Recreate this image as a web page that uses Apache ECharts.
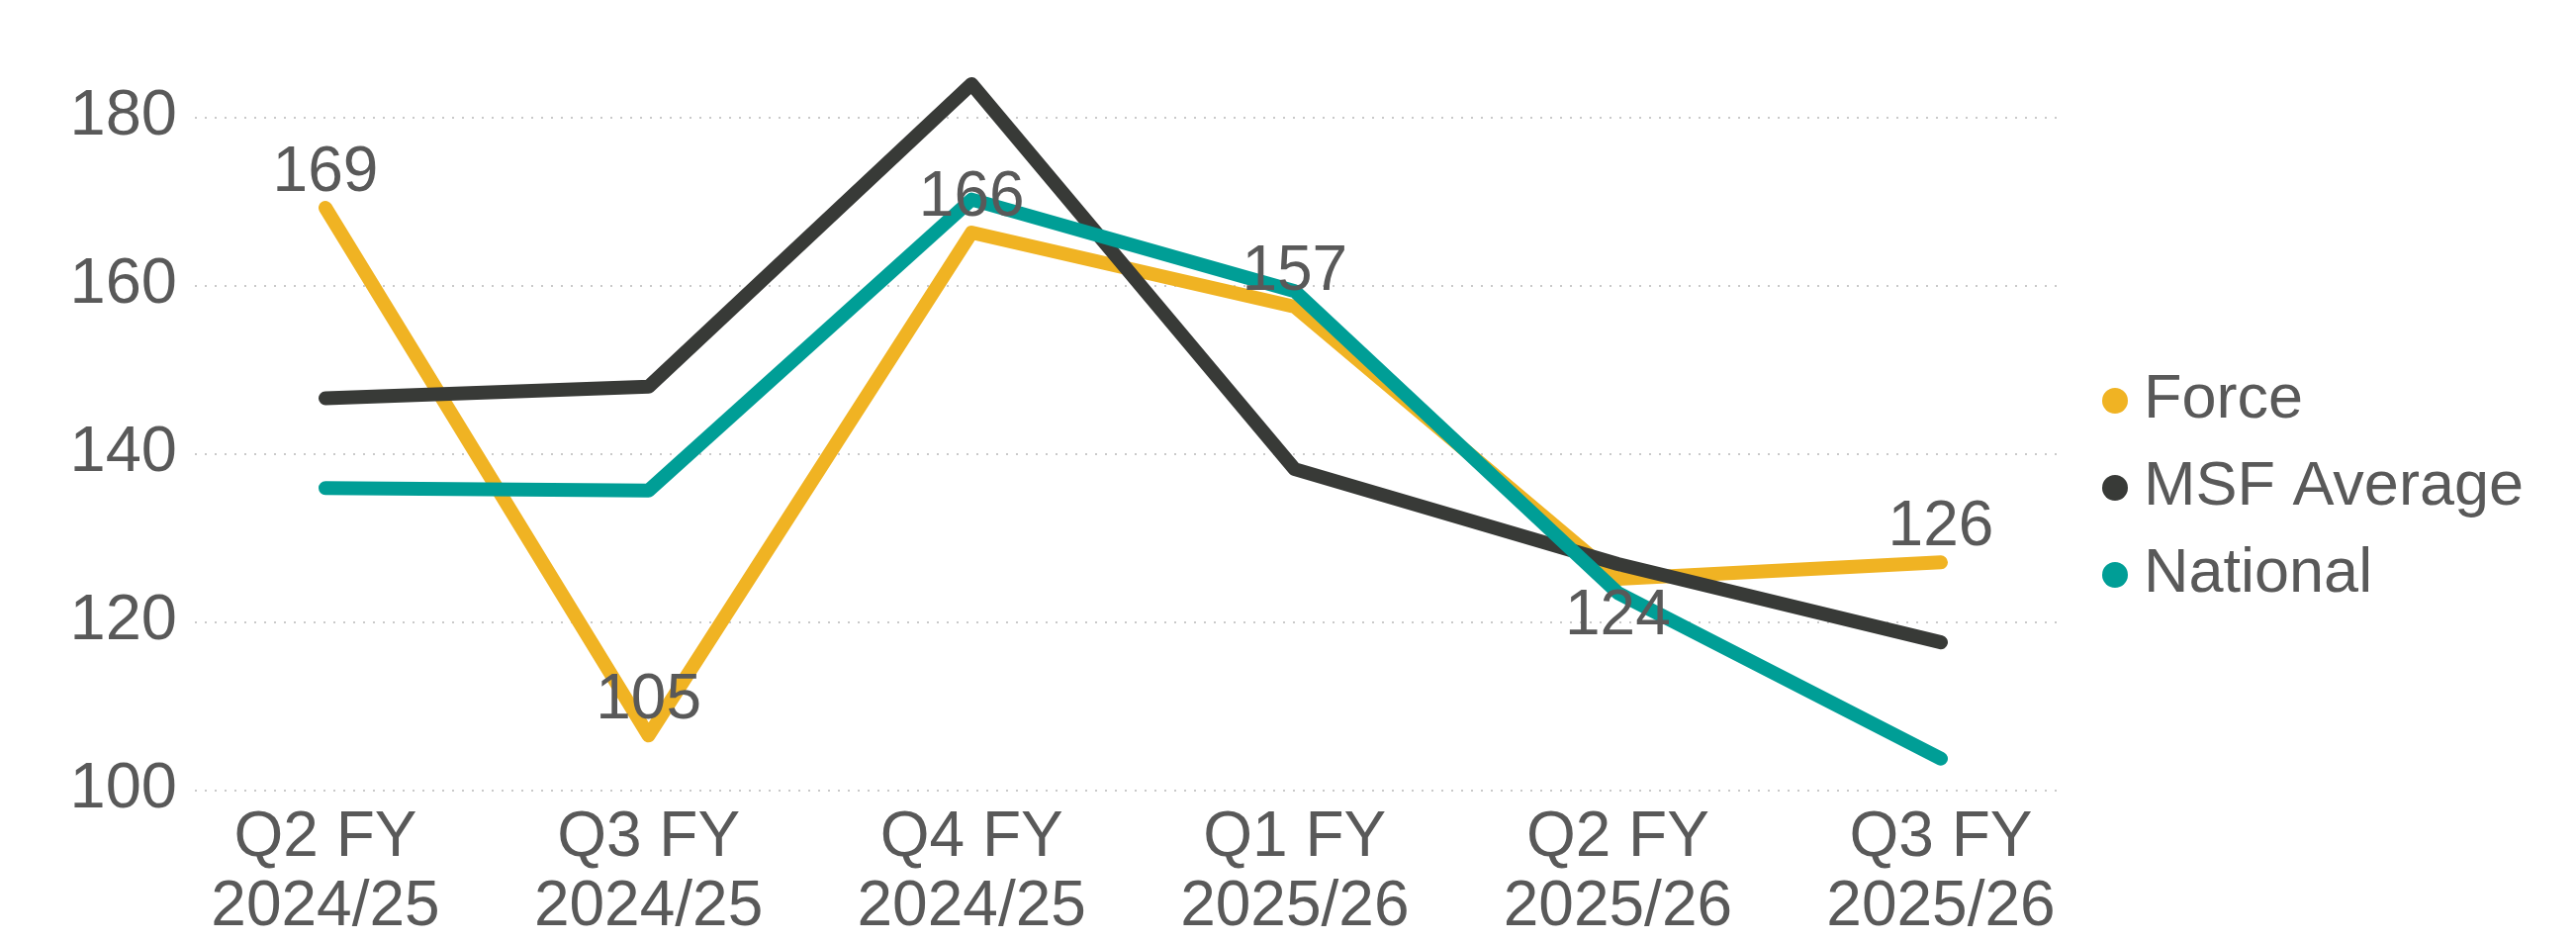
<!DOCTYPE html>
<html>
<head>
<meta charset="utf-8">
<title>Quarterly comparison</title>
<script src="https://cdn.jsdelivr.net/npm/echarts@6/dist/echarts.min.js"></script>
<style>
  html, body { margin: 0; padding: 0; background: #ffffff; }
  #chart { width: 2604px; height: 952px; }
</style>
</head>
<body>
<div id="chart"></div>
<script>
// Quarter labels along the x axis
const categories = [
  'Q2 FY\n2024/25', 'Q3 FY\n2024/25', 'Q4 FY\n2024/25',
  'Q1 FY\n2025/26', 'Q2 FY\n2025/26', 'Q3 FY\n2025/26'
];

// Series values per quarter
const forceValues    = [169, 105, 166, 157, 124, 126];
const msfAverage     = [145.9, 147.3, 184, 137.3, 125.8, 116.3];
const nationalValues = [135, 134.7, 170, 158.9, 122.3, 102.2];

// Value axis range and step
const yMin = 100;
const yMax = 180;
const yStep = 20;

// Index of the Force label placed under its point
const forceLabelBelowIndex = 4;

const TEXT = '#595959';
const FONT = '"Liberation Sans", Arial, sans-serif';

const chart = echarts.init(document.getElementById('chart'), null, { renderer: 'canvas' });

const gridTop = 118.3;
const gridBottom = 952 - 798.3;

const forceData = forceValues.map((v, i) =>
  i === forceLabelBelowIndex
    ? { value: v, label: { position: 'bottom', distance: 6 } }
    : v
);

const lineBase = (color) => ({
  type: 'line',
  xAxisIndex: 0,
  yAxisIndex: 0,
  clip: false,
  showSymbol: true,
  symbol: 'circle',
  symbolSize: 0,
  smooth: false,
  animation: false,
  itemStyle: { color: color },
  lineStyle: { color: color, width: 14, cap: 'round', join: 'round' },
  emphasis: { disabled: true }
});

chart.setOption({
  backgroundColor: '#ffffff',
  animation: false,
  textStyle: { fontFamily: FONT },
  grid: [
    // plotting area for the lines and the quarter labels
    { left: 329, right: 2604 - 1962, top: gridTop, bottom: gridBottom },
    // wider area carrying the value labels and dotted gridlines
    { left: 197, right: 2604 - 2080, top: gridTop, bottom: gridBottom }
  ],
  legend: {
    data: ['Force', 'MSF Average', 'National'],
    orient: 'vertical',
    left: 2120,
    top: 356,
    icon: 'circle',
    itemWidth: 26,
    itemHeight: 26,
    itemGap: 0,
    selectedMode: false,
    textStyle: {
      color: TEXT,
      fontSize: 63,
      fontFamily: FONT,
      lineHeight: 88,
      padding: [0, 0, 0, 11]
    }
  },
  xAxis: [
    {
      type: 'category',
      gridIndex: 0,
      data: categories,
      boundaryGap: false,
      axisLine: { show: false },
      axisTick: { show: false },
      splitLine: { show: false },
      axisLabel: {
        color: TEXT,
        fontSize: 64,
        fontFamily: FONT,
        lineHeight: 70,
        margin: 27,
        interval: 0
      }
    },
    {
      type: 'value',
      gridIndex: 1,
      show: false
    }
  ],
  yAxis: [
    {
      type: 'value',
      gridIndex: 0,
      min: yMin,
      max: yMax,
      interval: yStep,
      show: false
    },
    {
      type: 'value',
      gridIndex: 1,
      min: yMin,
      max: yMax,
      interval: yStep,
      axisLine: { show: false },
      axisTick: { show: false },
      axisLabel: {
        color: TEXT,
        fontSize: 65,
        fontFamily: FONT,
        margin: 18,
        padding: [8, 0, 0, 0]
      },
      splitLine: {
        show: true,
        lineStyle: { color: '#c9c9c9', width: 2, type: [2, 8] }
      }
    }
  ],
  series: [
    Object.assign(lineBase('#F0B323'), {
      name: 'Force',
      data: forceData,
      label: {
        show: true,
        position: 'top',
        distance: 3,
        color: TEXT,
        fontSize: 64,
        fontFamily: FONT,
        lineHeight: 64
      }
    }),
    Object.assign(lineBase('#383A37'), {
      name: 'MSF Average',
      data: msfAverage
    }),
    Object.assign(lineBase('#009E96'), {
      name: 'National',
      data: nationalValues
    })
  ]
});
</script>
</body>
</html>
